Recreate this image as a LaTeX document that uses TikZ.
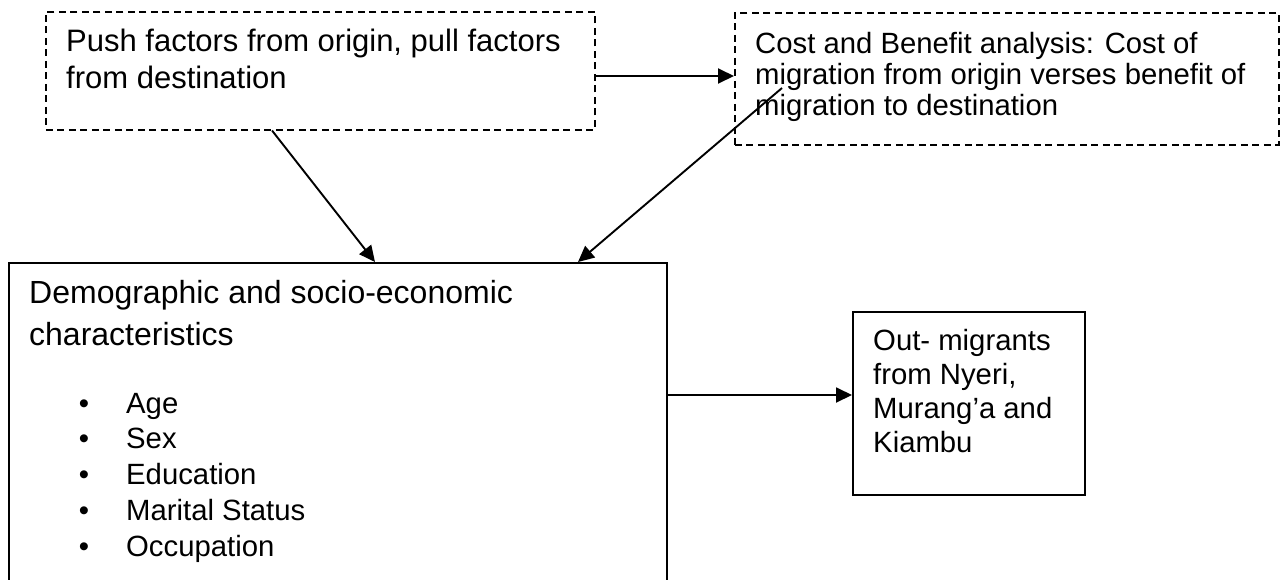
\documentclass[tikz,border=0pt]{standalone}
\usepackage{fontspec}
\setmainfont{Liberation Sans}
\usetikzlibrary{arrows.meta,calc}
\begin{document}
\begin{tikzpicture}[x=1pt,y=-1pt,
  dashbox/.style={draw, line width=1.5pt, dash pattern=on 7pt off 4.5pt, inner sep=0pt, anchor=north west},
  solidbox/.style={draw, line width=1.8pt, inner sep=0pt, anchor=north west},
  conn/.style={line width=1.9pt, -{Triangle[length=16pt,width=15pt]}},
  txt/.style={anchor=base west, inner sep=0pt, font=\fontsize{29.3}{31}\selectfont},
]
\clip (0,0) rectangle (1282,579);
% boxes
\node[dashbox, minimum width=549pt, minimum height=118pt] (A) at (45,11) {};
\node[dashbox, minimum width=544pt, minimum height=132pt] (B) at (734,12) {};
\node[solidbox, minimum width=658pt, minimum height=340pt] (C) at (8,262) {};
\node[solidbox, minimum width=232pt, minimum height=183pt] (D) at (852,311) {};
% texts
\node[txt, font=\fontsize{31}{37}\selectfont] (tA) at (66,51) {\parbox[t]{560pt}{\raggedright Push factors from origin, pull factors\\from destination}};
\node[txt] (tB) at (755,53) {\parbox[t]{560pt}{\raggedright Cost and Benefit analysis: Cost of\\migration from origin verses benefit of\\migration to destination}};
\node[txt, font=\fontsize{29.3}{34}\selectfont] (tD) at (873,350) {\parbox[t]{220pt}{\raggedright Out- migrants\\from Nyeri,\\Murang’a and\\Kiambu}};
\node[txt, font=\fontsize{32}{42}\selectfont] (tC) at (29,303) {\parbox[t]{600pt}{\raggedright Demographic and socio-economic\\characteristics}};
\node[anchor=base, inner sep=0pt, font=\fontsize{29.3}{35.75}\selectfont] (bul) at (84,413) {\parbox[t]{20pt}{\centering •\\•\\•\\•\\•}};
\node[txt, font=\fontsize{29.3}{35.75}\selectfont] (items) at (126,413) {\parbox[t]{400pt}{\raggedright Age\\Sex\\Education\\Marital Status\\Occupation}};
% connectors
\coordinate (bs) at (782,88);
\draw[conn] ($(A.north east)+(0,65)$) -- ($(B.north west)+(0,64)$);
\draw[conn] ($(A.south west)+(227,0)$) -- ($(C.north west)+(367,0)$);
\draw[conn] (bs) -- ($(C.north west)+(570,0)$);
\draw[conn] ($(C.north east)+(0,133)$) -- ($(D.north west)+(0,84)$);
\end{tikzpicture}
\end{document}
